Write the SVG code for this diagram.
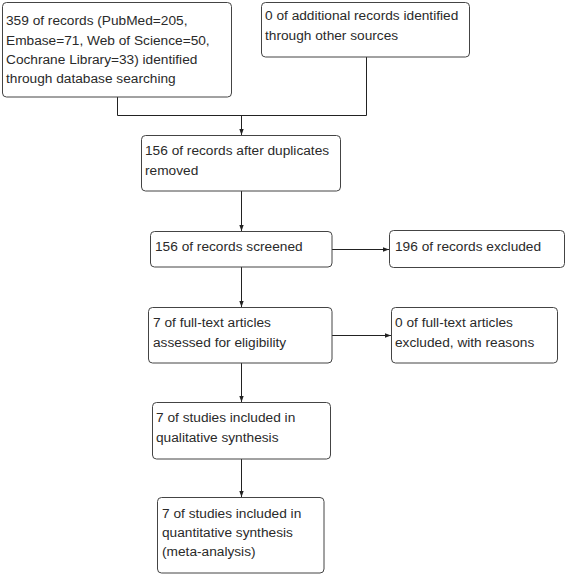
<svg xmlns="http://www.w3.org/2000/svg" width="567" height="575" viewBox="0 0 567 575">
<style>
.box{fill:#fff;stroke:#444;stroke-width:1}
text{font-family:"Liberation Sans",Arial,sans-serif;font-size:13.7px;fill:#2a2a2a}
.ln{fill:none;stroke:#222;stroke-width:1}
</style>
<defs>
<marker id="ah" viewBox="0 0 6 6" refX="6" refY="3" markerWidth="6" markerHeight="6" markerUnits="userSpaceOnUse" orient="auto">
<path d="M0,0.8 L6,3 L0,5.2 Z" fill="#222"/>
</marker>
</defs>
<rect width="567" height="575" fill="#fff"/>
<g id="connectors">
<path class="ln" d="M117.5,97 V115.5 H366.5 V57"/>
<path class="ln" d="M241.5,115.5 V135" marker-end="url(#ah)"/>
<path class="ln" d="M241.5,191 V231" marker-end="url(#ah)"/>
<path class="ln" d="M332,249.5 H389" marker-end="url(#ah)"/>
<path class="ln" d="M241.5,267 V307" marker-end="url(#ah)"/>
<path class="ln" d="M332,335.5 H391" marker-end="url(#ah)"/>
<path class="ln" d="M241.5,363 V402" marker-end="url(#ah)"/>
<path class="ln" d="M241.5,459 V497" marker-end="url(#ah)"/>
</g>
<g id="n1"><rect class="box" x="2.5" y="2.5" width="229" height="94.5" rx="4"/>
<text x="6" y="25">359 of records (PubMed=205,</text>
<text x="6" y="44.5">Embase=71, Web of Science=50,</text>
<text x="6" y="63.5">Cochrane Library=33) identified</text>
<text x="6" y="83">through database searching</text></g>
<g id="n2"><rect class="box" x="261.5" y="2.5" width="208" height="54.5" rx="4"/>
<text x="265" y="20">0 of additional records identified</text>
<text x="265" y="40">through other sources</text></g>
<g id="n3"><rect class="box" x="141.5" y="135.5" width="199" height="55.5" rx="4"/>
<text x="145" y="155">156 of records after duplicates</text>
<text x="145" y="174.5">removed</text></g>
<g id="n4"><rect class="box" x="150.5" y="231.5" width="181.5" height="35.5" rx="4"/>
<text x="155" y="251">156 of records screened</text></g>
<g id="n5"><rect class="box" x="389.5" y="230.5" width="175" height="37" rx="4"/>
<text x="395" y="251">196 of records excluded</text></g>
<g id="n6"><rect class="box" x="148.5" y="307.5" width="183.5" height="55.5" rx="4"/>
<text x="153" y="327">7 of full-text articles</text>
<text x="153" y="347">assessed for eligibility</text></g>
<g id="n7"><rect class="box" x="391.5" y="307.5" width="166" height="55.5" rx="4"/>
<text x="395" y="327">0 of full-text articles</text>
<text x="395" y="346.5">excluded, with reasons</text></g>
<g id="n8"><rect class="box" x="152.5" y="402.5" width="178" height="56.5" rx="4"/>
<text x="156" y="422">7 of studies included in</text>
<text x="156" y="442">qualitative synthesis</text></g>
<g id="n9"><rect class="box" x="157.5" y="497.5" width="166.5" height="75.5" rx="4"/>
<text x="162" y="518">7 of studies included in</text>
<text x="162" y="536.5">quantitative synthesis</text>
<text x="162" y="555.5">(meta-analysis)</text></g>
</svg>
